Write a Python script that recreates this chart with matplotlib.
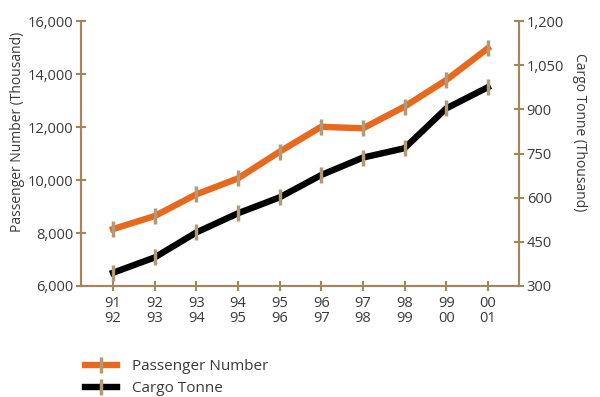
import numpy as np
import matplotlib.pyplot as plt
from matplotlib.lines import Line2D

# fiscal years and yearly totals (thousands)
years = ['91\n92', '92\n93', '93\n94', '94\n95', '95\n96',
         '96\n97', '97\n98', '98\n99', '99\n00', '00\n01']
passengers = [8150, 8640, 9460, 10060, 11070, 12010, 11950, 12770, 13770, 14970]
cargo = [345, 397, 482, 547, 601, 677, 736, 768, 903, 975]

axis_col = '#a3865e'
text_col = '#3a3a3a'
orange = '#e8681e'
mark_col = '#b09a78'

plt.rcParams['font.family'] = ['Open Sans', 'DejaVu Sans']

fig = plt.figure(figsize=(6, 3.97), dpi=100)
ax = fig.add_axes([0.135, 0.2796, 0.73, 0.6674])
ax2 = ax.twinx()

x = np.arange(len(years))
mk = dict(marker='|', markersize=11, markeredgewidth=2.5, markeredgecolor=mark_col)
ax.plot(x, passengers, color=orange, lw=4.6, solid_joinstyle='miter', zorder=3, **mk)
ax2.plot(x, cargo, color='black', lw=4.6, solid_joinstyle='miter', zorder=3, **mk)

ax.set_xlim(-0.77, 9.75)
ax.set_ylim(6000, 16000)
ax2.set_ylim(300, 1200)
ax.set_xticks(x)
ax.set_xticklabels(years, linespacing=0.95)
ax.set_yticks(range(6000, 16001, 2000))
ax.set_yticklabels([f'{v:,}' for v in range(6000, 16001, 2000)])
ax2.set_yticks(range(300, 1201, 150))
ax2.set_yticklabels([f'{v:,}' for v in range(300, 1201, 150)])

for a in (ax, ax2):
    a.spines['top'].set_visible(False)
    for s in ('left', 'right', 'bottom'):
        a.spines[s].set_color(axis_col)
        a.spines[s].set_linewidth(1.5)
    a.tick_params(direction='inout', length=7, width=1.5, color=axis_col,
                  labelcolor=text_col, labelsize=10.5, pad=2)
ax.tick_params(axis='x', pad=4)

ax.set_ylabel('Passenger Number (Thousand)', color=text_col, fontsize=10)
ax2.set_ylabel('Cargo Tonne (Thousand)', color=text_col, fontsize=10, rotation=-90)
ax.yaxis.set_label_coords(-0.127, 0.58)
ax2.yaxis.set_label_coords(1.155, 0.58)

handles = [Line2D([], [], color=orange, lw=4.6, **mk),
           Line2D([], [], color='black', lw=4.6, **mk)]
fig.legend(handles, ['Passenger Number', 'Cargo Tonne'], loc='upper left',
           bbox_to_anchor=(0.118, 0.13), frameon=False, fontsize=11,
           handlelength=2.1, handletextpad=1.0, labelspacing=0.45,
           labelcolor=text_col)

fig.savefig('out.png', dpi=100, facecolor='white')
